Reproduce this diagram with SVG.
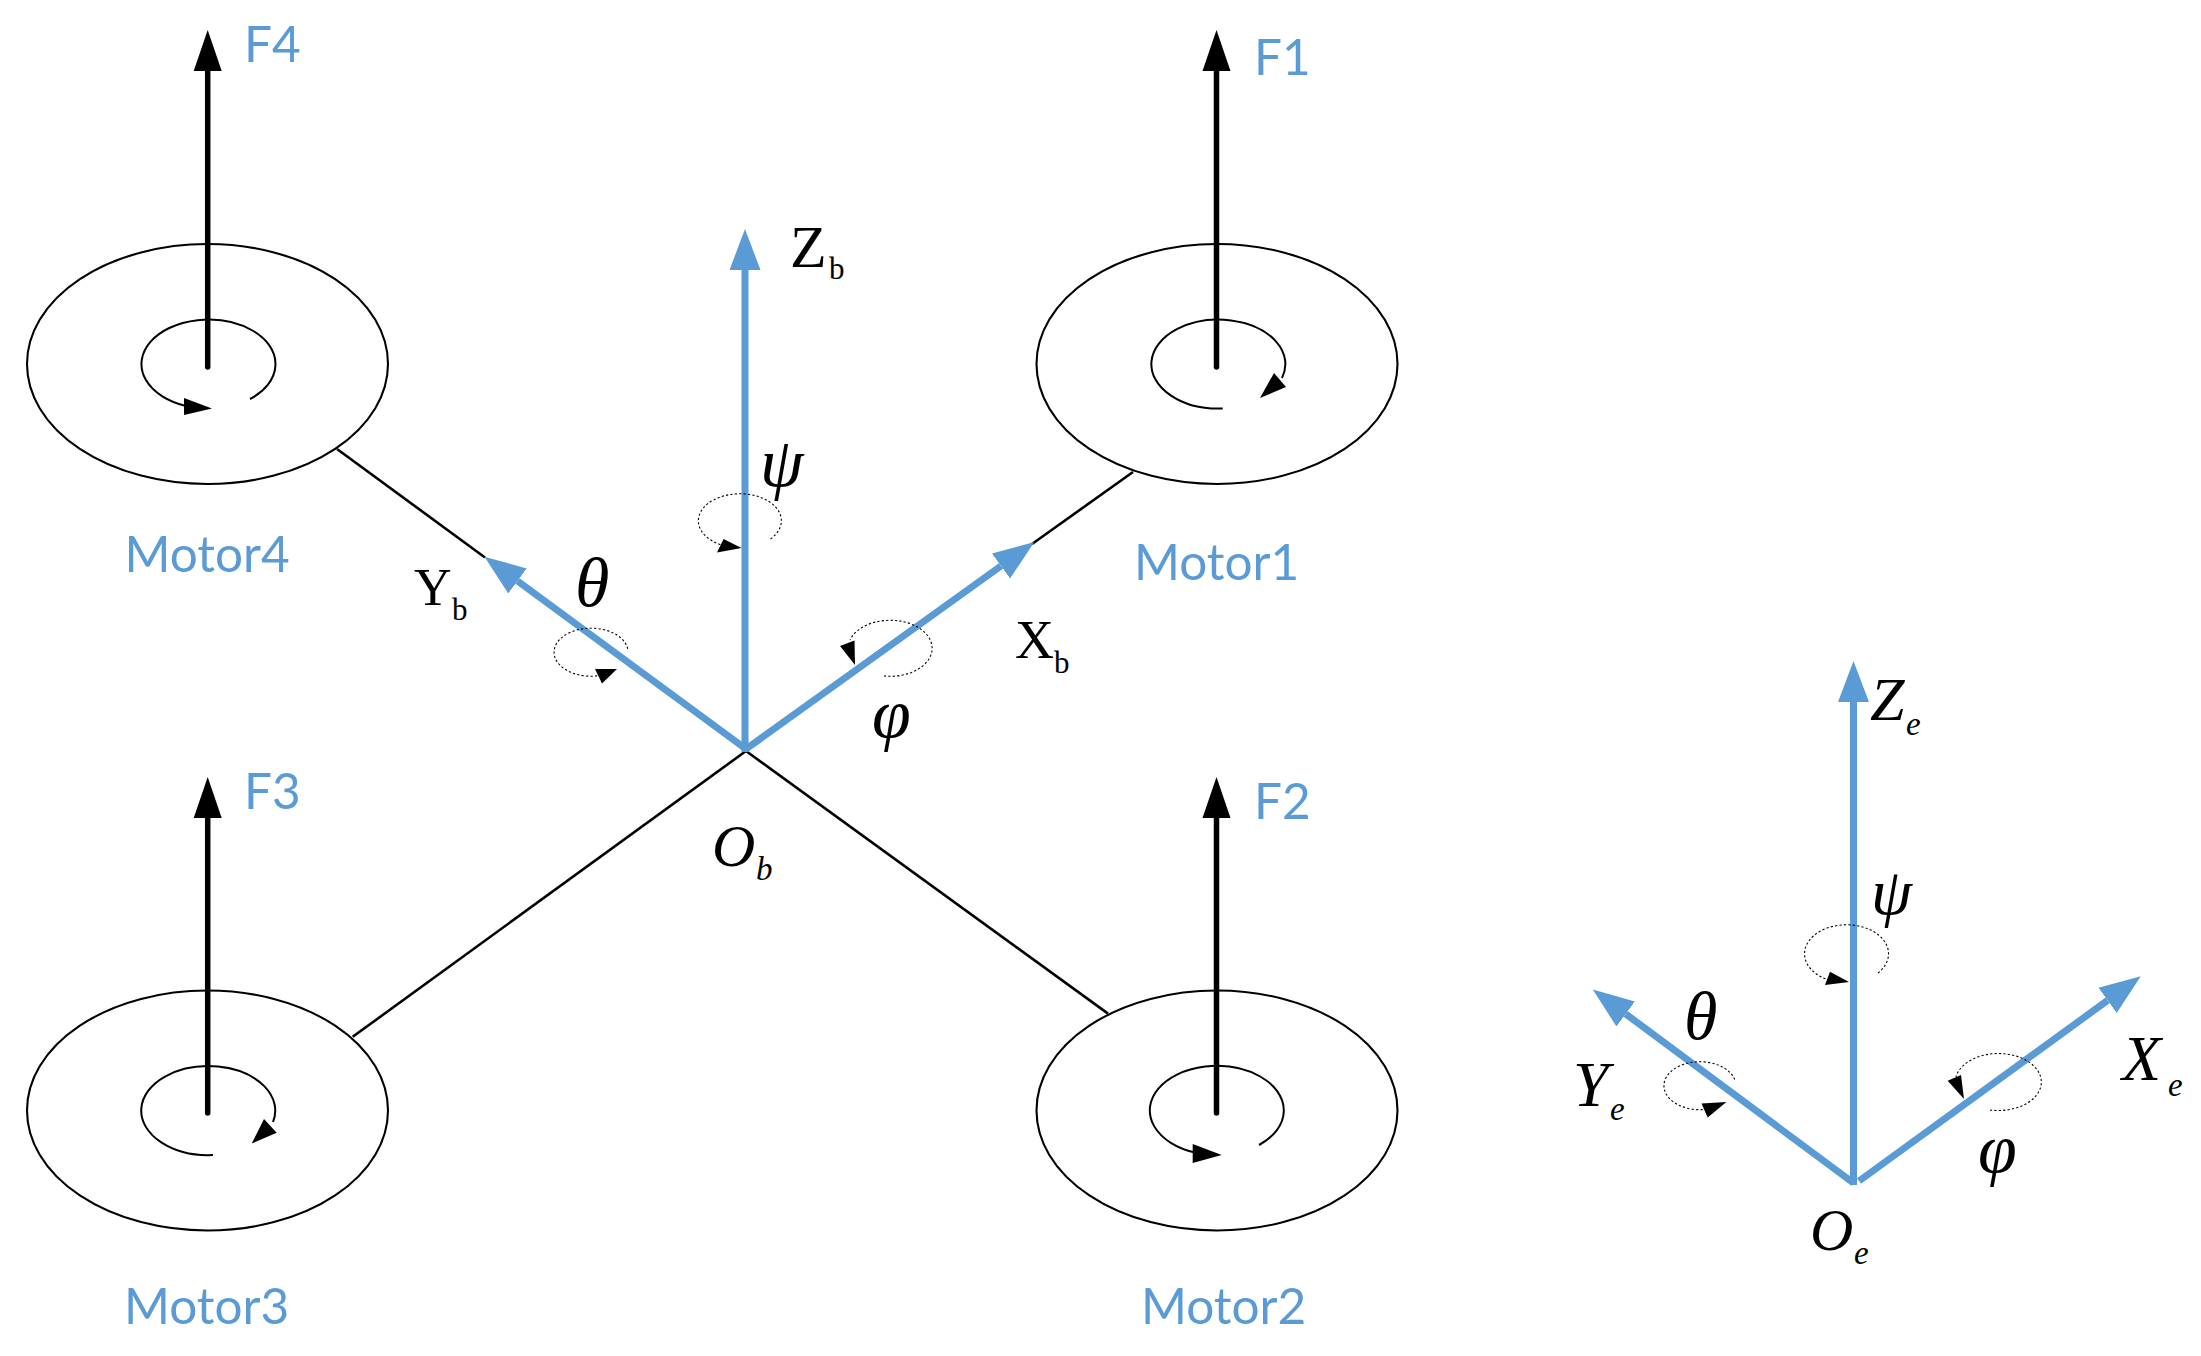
<svg xmlns="http://www.w3.org/2000/svg" width="2201" height="1356" viewBox="0 0 2201 1356">
<defs>
<style>
.disc{fill:none;stroke:#000;stroke-width:2.1}
.spin{fill:none;stroke:#000;stroke-width:2}
.rot{fill:none;stroke:#000;stroke-width:1.1;stroke-dasharray:2.2 2.2}
.arm{stroke:#000;stroke-width:2.6;fill:none}
.force{stroke:#000;stroke-width:5.5;stroke-linecap:round;fill:none;marker-end:url(#headK)}
.axis{stroke:#5b9bd5;stroke-width:7;fill:none;marker-end:url(#headB)}
.lab{font-family:"Lato","Open Sans",sans-serif;font-size:49.5px;fill:#5b9bd5}
.up{font-family:"Liberation Serif",serif;font-size:52px;fill:#000}
.us{font-size:31px}
.gk{font-family:"Liberation Serif",serif;font-style:italic;font-size:70px;fill:#000}
.it{font-family:"Liberation Serif",serif;font-style:italic;font-size:60px;fill:#000}
.is{font-size:33px}
</style>
<marker id="headK" markerUnits="userSpaceOnUse" markerWidth="44" markerHeight="34" refX="0" refY="17" orient="auto"><path d="M0,3 L41,17 L0,31 z" fill="#000"/></marker>
<marker id="headB" markerUnits="userSpaceOnUse" markerWidth="44" markerHeight="34" refX="0" refY="17" orient="auto"><path d="M0,1.5 L41,17 L0,32.5 z" fill="#5b9bd5"/></marker>
</defs>
<rect width="2201" height="1356" fill="#fff"/>
<g id="connectors">
<line class="arm" x1="1032" y1="544" x2="1133" y2="472"/>
<line class="arm" x1="485" y1="557.5" x2="337" y2="449"/>
<line class="arm" x1="746" y1="751" x2="352.7" y2="1036.8"/>
<line class="arm" x1="746" y1="751" x2="1108" y2="1013.6"/>
<line class="axis" x1="745" y1="752" x2="745" y2="270"/>
<line class="axis" x1="746" y1="749" x2="517.5" y2="581"/>
<line class="axis" x1="746" y1="749" x2="1001" y2="566"/>
<line class="axis" x1="1853.5" y1="1185" x2="1853.5" y2="702"/>
<line class="axis" x1="1853.5" y1="1183" x2="1625.7" y2="1014"/>
<line class="axis" x1="1859" y1="1181" x2="2107.6" y2="1000.4"/>
</g>
<g id="motor1">
<ellipse class="disc" cx="1217" cy="364" rx="180.5" ry="120"/>
<path class="spin" d="M1222.7,408.5 A67,44.5 0 1 1 1282,378"/>
<path d="M1260,398 L1274,373 L1286,387 z"/>
<line class="force" x1="1216.5" y1="367" x2="1216.5" y2="71"/>
<text class="lab" x="1254" y="75">F1</text>
<text class="lab" x="1134" y="580">Motor1</text>
</g>
<g id="motor2">
<ellipse class="disc" cx="1217" cy="1110.5" rx="180.5" ry="120"/>
<path class="spin" d="M1259,1145 A67,44.5 0 1 0 1195,1152.5"/>
<path d="M1221.7,1155 L1192.7,1144 L1192.7,1163 z"/>
<line class="force" x1="1216.5" y1="1113" x2="1216.5" y2="818"/>
<text class="lab" x="1254" y="819">F2</text>
<text class="lab" x="1141" y="1324">Motor2</text>
</g>
<g id="motor3">
<ellipse class="disc" cx="207.5" cy="1110.5" rx="180.5" ry="120"/>
<path class="spin" d="M213,1155 A67,44.5 0 1 1 273,1122"/>
<path d="M251.7,1143.5 L264,1119 L276.7,1132.7 z"/>
<line class="force" x1="207.7" y1="1113" x2="207.7" y2="818"/>
<text class="lab" x="244" y="809">F3</text>
<text class="lab" x="124" y="1324">Motor3</text>
</g>
<g id="motor4">
<ellipse class="disc" cx="207.5" cy="364" rx="180.5" ry="120"/>
<path class="spin" d="M250,399 A67,44.5 0 1 0 186,406"/>
<path d="M212,408.5 L184,398 L184,415 z"/>
<line class="force" x1="207.7" y1="367" x2="207.7" y2="71"/>
<text class="lab" x="244" y="62">F4</text>
<text class="lab" x="124.5" y="572">Motor4</text>
</g>
<g id="body-frame">
<path class="rot" d="M770.5,539 A41.5,27 0 1 0 725,546"/>
<path d="M741.5,548 L723.6,539 L717,552.6 z"/>
<path class="rot" d="M627.7,648.8 A37,24 0 1 0 600,675.5"/>
<path d="M617,669 L595,669 L602,683.6 z"/>
<path class="rot" d="M884,676 A42,28 0 1 0 850,640"/>
<path d="M855,665 L840,646 L854.5,640.5 z"/>
<text class="up" x="790" y="267" style="font-size:60px">Z<tspan class="us" x="829" y="279">b</tspan></text>
<text class="up" x="414" y="605">Y<tspan class="us" x="452" y="620">b</tspan></text>
<text class="up" x="1015" y="658" style="font-size:54px">X<tspan class="us" x="1054" y="673">b</tspan></text>
<text class="it" x="712" y="866">O<tspan class="is" x="756" y="880">b</tspan></text>
<text class="gk" x="760" y="486">ψ</text>
<text class="gk" x="575" y="606">θ</text>
<text class="gk" x="872" y="737">φ</text>
</g>
<g id="earth-frame">
<path class="rot" d="M1878,973 A42,29 0 1 0 1832,981"/>
<path d="M1849,982 L1830,971.7 L1825,985 z"/>
<path class="rot" d="M1734.7,1079.5 A36,24 0 1 0 1705,1109.5"/>
<path d="M1726.4,1102 L1701.5,1103.5 L1707.7,1117.6 z"/>
<path class="rot" d="M1990,1110 A43,28.5 0 1 0 1956,1077"/>
<path d="M1964,1099 L1947.7,1080.7 L1961,1075 z"/>
<text class="it" x="1870" y="720" style="font-size:62px">Z<tspan class="is" x="1906" y="735">e</tspan></text>
<text class="it" x="1573" y="1106" style="font-size:64px">Y<tspan class="is" x="1610" y="1120">e</tspan></text>
<text class="it" x="2122" y="1080" style="font-size:64px">X<tspan class="is" x="2168" y="1096">e</tspan></text>
<text class="it" x="1810" y="1250">O<tspan class="is" x="1854" y="1264">e</tspan></text>
<text class="gk" x="1871" y="914" style="font-size:66px">ψ</text>
<text class="gk" x="1684" y="1039" style="font-size:68px">θ</text>
<text class="gk" x="1978" y="1172">φ</text>
</g>
</svg>
